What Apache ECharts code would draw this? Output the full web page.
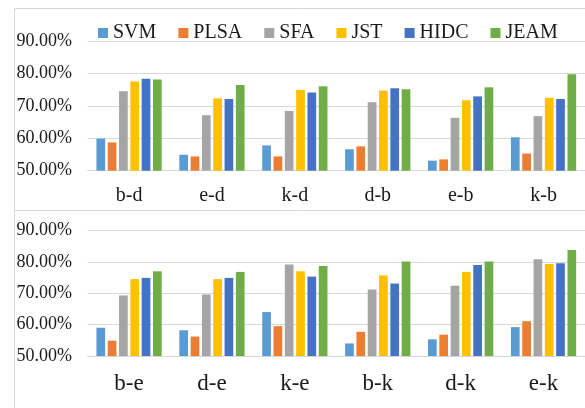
<!DOCTYPE html>
<html>
<head>
<meta charset="utf-8">
<script src="https://cdn.jsdelivr.net/npm/echarts@6/dist/echarts.min.js"></script>
<style>html,body{margin:0;padding:0;background:#fff;}#c{width:585px;height:408px;}</style>
</head>
<body>
<div id="c"></div>
<script>
var seriesNames = ['SVM', 'PLSA', 'SFA', 'JST', 'HIDC', 'JEAM'];
var colors = ['#5B9BD5', '#ED7D31', '#A5A5A5', '#FFC000', '#4472C4', '#70AD47'];
var topCategories = ['b-d', 'e-d', 'k-d', 'd-b', 'e-b', 'k-b'];
var bottomCategories = ['b-e', 'd-e', 'k-e', 'b-k', 'd-k', 'e-k'];
var yTicks = [50, 60, 70, 80, 90];

// top panel values (%), one array per method
var topSVM  = [59.9, 54.9, 57.8, 56.6, 53.1, 60.3];
var topPLSA = [58.7, 54.4, 54.4, 57.5, 53.5, 55.3];
var topSFA  = [74.5, 67.1, 68.4, 71.1, 66.3, 66.8];
var topJST  = [77.5, 72.3, 74.9, 74.7, 71.7, 72.5];
var topHIDC = [78.3, 72.1, 74.1, 75.4, 72.9, 72.1];
var topJEAM = [78.1, 76.4, 76.0, 75.1, 75.7, 79.7];

// bottom panel values (%)
var botSVM  = [59.0, 58.2, 64.0, 54.0, 55.3, 59.2];
var botPLSA = [54.9, 56.2, 59.5, 57.7, 56.8, 61.1];
var botSFA  = [69.3, 69.6, 79.2, 71.2, 72.4, 80.8];
var botJST  = [74.5, 74.5, 77.0, 75.7, 76.8, 79.3];
var botHIDC = [74.9, 74.9, 75.3, 73.1, 79.0, 79.6];
var botJEAM = [77.0, 76.8, 78.7, 80.1, 80.1, 83.8];

var topData = [topSVM, topPLSA, topSFA, topJST, topHIDC, topJEAM];
var botData = [botSVM, botPLSA, botSFA, botJST, botHIDC, botJEAM];

var font = '"Liberation Serif", "Times New Roman", serif';
var txt = '#1a1a1a';
var gridColor = '#D9D9D9';

function yAxis(idx) {
  return {
    type: 'value', gridIndex: idx,
    min: yTicks[0], max: yTicks[yTicks.length - 1], interval: 10,
    axisLine: { show: false }, axisTick: { show: false },
    splitLine: { lineStyle: { color: gridColor, width: 1 } },
    axisLabel: {
      margin: 15.5, color: txt, fontFamily: font, fontSize: 18,
      formatter: function (v) { return v.toFixed(2) + '%'; }
    }
  };
}
function xAxis(idx, cats, fs, m) {
  return {
    type: 'category', gridIndex: idx, data: cats,
    axisLine: { show: true, lineStyle: { color: gridColor, width: 1 } },
    axisTick: { show: false },
    axisLabel: { margin: m, color: txt, fontFamily: font, fontSize: fs }
  };
}

var series = [];
seriesNames.forEach(function (n, i) {
  series.push({ name: n, type: 'bar', xAxisIndex: 0, yAxisIndex: 0, data: topData[i],
    barWidth: 8.7, barGap: '30%', itemStyle: { color: colors[i] } });
});
seriesNames.forEach(function (n, i) {
  series.push({ name: n, type: 'bar', xAxisIndex: 1, yAxisIndex: 1, data: botData[i],
    barWidth: 8.7, barGap: '30%', itemStyle: { color: colors[i] } });
});

var chart = echarts.init(document.getElementById('c'), null, { renderer: 'canvas' });
chart.setOption({
  animation: false,
  backgroundColor: '#fff',
  color: colors,
  legend: {
    data: seriesNames, left: 93, top: 18,
    icon: 'rect', itemWidth: 10, itemHeight: 10, itemGap: 22,
    textStyle: { color: txt, fontFamily: font, fontSize: 20 }
  },
  grid: [
    { left: 87.6, top: 40.9, width: 505.2, height: 129.8 },
    { left: 87.6, top: 230.5, width: 505.2, height: 125.5 }
  ],
  xAxis: [xAxis(0, topCategories, 20, 15), xAxis(1, bottomCategories, 23, 16)],
  yAxis: [yAxis(0), yAxis(1)],
  series: series,
  graphic: [
    { type: 'line', shape: { x1: 14.5, y1: 8.5, x2: 585, y2: 8.5 }, style: { stroke: gridColor, lineWidth: 1 }, silent: true },
    { type: 'line', shape: { x1: 14.5, y1: 8.5, x2: 14.5, y2: 408 }, style: { stroke: gridColor, lineWidth: 1 }, silent: true },
    { type: 'line', shape: { x1: 14.5, y1: 210.5, x2: 585, y2: 210.5 }, style: { stroke: gridColor, lineWidth: 1 }, silent: true }
  ]
});
</script>
</body>
</html>
